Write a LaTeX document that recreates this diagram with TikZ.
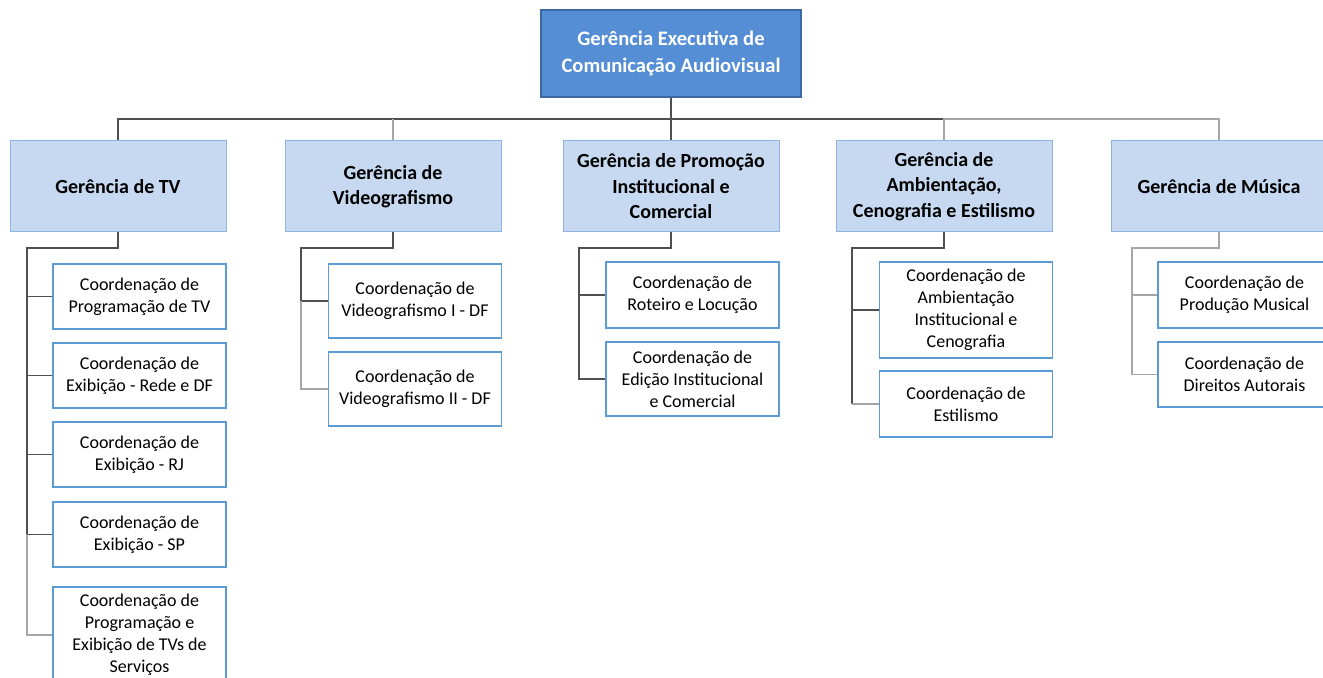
\documentclass[tikz,border=0pt]{standalone}
\usepackage{fontspec}
\setmainfont{Carlito}
\definecolor{topfill}{HTML}{558ED5}
\definecolor{topline}{HTML}{3B6AA3}
\definecolor{gerfill}{HTML}{C6D9F1}
\definecolor{gerline}{HTML}{8EB4E3}
\definecolor{coordline}{HTML}{5B9BD5}
\definecolor{darkwire}{HTML}{505050}
\definecolor{lightwire}{HTML}{A6A6A6}
\begin{document}
\begin{tikzpicture}[x=0.5pt,y=-0.5pt,
  topbox/.style={draw=topline, fill=topfill, text=white, line width=0.6pt,
    font=\bfseries\fontsize{10.3}{13.5}\selectfont, align=center,
    minimum width=130pt, minimum height=43.5pt, inner sep=0pt},
  gerbox/.style={draw=gerline, fill=gerfill, line width=0.5pt,
    font=\bfseries\fontsize{10}{12.75}\selectfont, align=center,
    minimum width=108pt, minimum height=45.5pt, inner sep=0pt},
  coordbox/.style={draw=coordline, fill=white, line width=0.6pt,
    font=\fontsize{9}{11}\selectfont, align=center,
    minimum width=86.5pt, inner sep=0pt},
  dk/.style={draw=darkwire, line width=0.8pt},
  lt/.style={draw=lightwire, line width=0.6pt}]
  \useasboundingbox (0,0) rectangle (1323,678);
  % top and managers
  \node [topbox] (top) at (671,53.5) {Gerência Executiva de\\Comunicação Audiovisual};
  \foreach \n/\x/\t in {tv/118/{Gerência de TV},
    vid/393/{Gerência de\\Videografismo},
    prom/671/{Gerência de Promoção\\Institucional e\\Comercial},
    amb/944/{Gerência de\\Ambientação,\\Cenografia e Estilismo},
    mus/1219/{Gerência de Música}}
  \node [gerbox] (\n) at (\x,186.5) {\t};
  % coordinations
  \node [coordbox, minimum height=32.5pt] (t1) at (139.5,296.5) {Coordenação de\\Programação de TV};
  \node [coordbox, minimum height=32.5pt] (t2) at (139.5,375.5) {Coordenação de\\Exibição - Rede e DF};
  \node [coordbox, minimum height=32.5pt] (t3) at (139.5,454.5) {Coordenação de\\Exibição - RJ};
  \node [coordbox, minimum height=32.5pt] (t4) at (139.5,534.5) {Coordenação de\\Exibição - SP};
  \node [coordbox, minimum height=48pt] (t5) at (139.5,635) {Coordenação de\\Programação e\\Exibição de TVs de\\Serviços};
  \node [coordbox, minimum height=37pt] (v1) at (415,301) {Coordenação de\\Videografismo I - DF};
  \node [coordbox, minimum height=37pt] (v2) at (415,389) {Coordenação de\\Videografismo II - DF};
  \node [coordbox, minimum height=33pt] (p1) at (692.5,295) {Coordenação de\\Roteiro e Locução};
  \node [coordbox, minimum height=37pt] (p2) at (692.5,379) {Coordenação de\\Edição Institucional\\e Comercial};
  \node [coordbox, minimum height=48pt] (a1) at (966,310) {Coordenação de\\Ambientação\\Institucional e\\Cenografia};
  \node [coordbox, minimum height=33pt] (a2) at (966,404) {Coordenação de\\Estilismo};
  \node [coordbox, minimum height=33pt] (m1) at (1244.5,295) {Coordenação de\\Produção Musical};
  \node [coordbox, minimum height=32.5pt] (m2) at (1244.5,374.5) {Coordenação de\\Direitos Autorais};
  % bus
  \coordinate (bus) at (671,119);
  \draw [dk] (top.south) -- (prom.north);
  \draw [dk] (tv.north) |- (bus) -- (bus -| amb.north);
  \draw [lt] (vid.north) -- (vid.north |- bus);
  \draw [lt] (amb.north) -- (amb.north |- bus) -| (mus.north);
  % tv
  \coordinate (tvk) at (27,248);
  \draw [dk] (tv.south) |- (tvk) -- (tvk |- t4.west);
  \draw [lt] (tvk |- t4.west) |- (t5.west);
  \foreach \i in {1,...,4}
  \draw [dk] (tvk |- t\i.west) -- (t\i.west);
  % videografismo
  \coordinate (vik) at (301,248);
  \draw [dk] (vid.south) |- (vik) |- (v1.west);
  \draw [lt] (vik |- v1.west) |- (v2.west);
  % promocao
  \coordinate (prk) at (579,248);
  \draw [dk] (prom.south) |- (prk) |- (p2.west);
  \draw [dk] (prk |- p1.west) -- (p1.west);
  % ambientacao
  \coordinate (amk) at (852,248);
  \draw [dk] (amb.south) |- (amk) -- (amk |- a2.west);
  \draw [dk] (amk |- a1.west) -- (a1.west);
  \draw [lt] (amk |- a2.west) -- (a2.west);
  % musica
  \coordinate (muk) at (1132,248);
  \draw [lt] (mus.south) |- (muk) |- (m2.west);
  \draw [lt] (muk |- m1.west) -- (m1.west);
\end{tikzpicture}
\end{document}
